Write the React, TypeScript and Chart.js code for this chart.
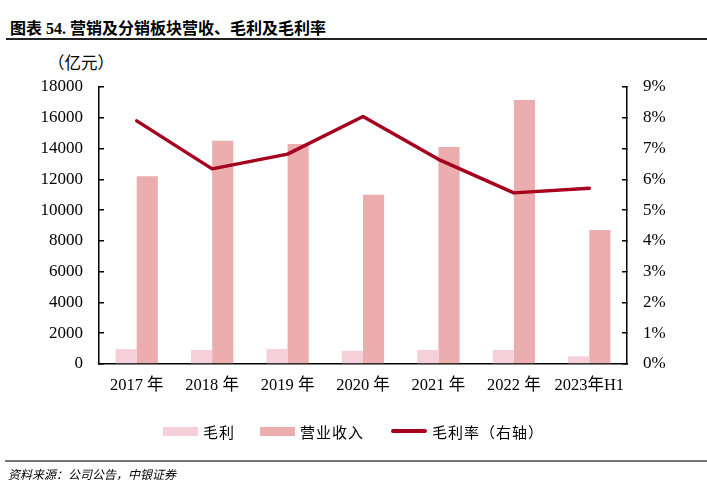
import React, { useEffect, useRef } from "react";
import { Chart, registerables } from "chart.js";

Chart.register(...registerables);

const categories = ["2017 年", "2018 年", "2019 年", "2020 年", "2021 年", "2022 年", "2023年H1"];
const grossProfit = [970, 910, 970, 860, 910, 910, 500];
const revenue = [12200, 14500, 14300, 11000, 14100, 17150, 8700];
const grossMargin = [7.9, 6.34, 6.82, 8.04, 6.65, 5.56, 5.71];
const leftTicks = [0, 18000, 2000];
const rightTicks = [0, 9, 1];

const seriesNames = ["毛利", "营业收入", "毛利率（右轴）"];
const colors = ["#F6D0D8", "#EBADAD", "#A6001F"];

const SERIF = '"Liberation Serif", "Noto Sans CJK SC", serif';
const CJK = '"Noto Sans CJK SC", "Liberation Serif", sans-serif';

export default function App() {
  const ref = useRef<HTMLCanvasElement | null>(null);

  useEffect(() => {
    if (!ref.current) return;
    const chart = new Chart(ref.current, {
      type: "bar",
      data: {
        labels: categories,
        datasets: [
          {
            type: "line",
            label: seriesNames[2],
            data: grossMargin,
            yAxisID: "y1",
            borderColor: colors[2],
            backgroundColor: colors[2],
            borderWidth: 3.5,
            pointRadius: 0,
            borderCapStyle: "round",
            borderJoinStyle: "round",
            tension: 0,
            order: 0,
          } as any,
          {
            type: "bar",
            label: seriesNames[0],
            data: grossProfit,
            yAxisID: "y",
            backgroundColor: colors[0],
            categoryPercentage: 0.56,
            barPercentage: 1,
            order: 1,
          },
          {
            type: "bar",
            label: seriesNames[1],
            data: revenue,
            yAxisID: "y",
            backgroundColor: colors[1],
            categoryPercentage: 0.56,
            barPercentage: 1,
            order: 1,
          },
        ],
      },
      options: {
        responsive: false,
        animation: false,
        devicePixelRatio: 1,
        layout: { padding: { top: 87, left: 0, right: 0, bottom: 0 } },
        plugins: { legend: { display: false }, tooltip: { enabled: false } },
        scales: {
          x: {
            grid: { display: false, drawTicks: false },
            border: { display: true, color: "#000", width: 1.5 },
            ticks: { color: "#000", font: { family: SERIF, size: 16.5 }, padding: 12, maxRotation: 0, autoSkip: false },
            afterFit: (s: any) => { s.height = 127; },
          },
          y: {
            position: "left",
            min: leftTicks[0],
            max: leftTicks[1],
            ticks: { stepSize: leftTicks[2], color: "#000", font: { family: SERIF, size: 17 }, padding: 21, callback: (v: any) => String(v) },
            grid: { drawOnChartArea: false, drawTicks: true, tickLength: -5, color: "#000", lineWidth: 1.5 },
            border: { display: true, color: "#000", width: 1.5 },
            afterFit: (s: any) => { s.width = 99; },
          },
          y1: {
            position: "right",
            min: rightTicks[0],
            max: rightTicks[1],
            ticks: { stepSize: rightTicks[2], color: "#000", font: { family: SERIF, size: 17 }, padding: 21, callback: (v: any) => v + "%" },
            grid: { drawOnChartArea: false, drawTicks: true, tickLength: -5, color: "#000", lineWidth: 1.5 },
            border: { display: true, color: "#000", width: 1.5 },
            afterFit: (s: any) => { s.width = 80; },
          },
        },
      },
    });
    return () => chart.destroy();
  }, []);

  const legendItem = (left: number, kind: number, text: string) => (
    <div style={{ position: "absolute", left, top: 421, height: 20, display: "flex", alignItems: "center" }}>
      {kind < 2 ? (
        <div style={{ width: 35, height: 9, background: colors[kind] }} />
      ) : (
        <div style={{ width: 36, height: 3.5, borderRadius: 2, background: colors[2] }} />
      )}
      <span style={{ marginLeft: 5, fontFamily: CJK, fontSize: 15, color: "#000", letterSpacing: 1 }}>{text}</span>
    </div>
  );

  return (
    <div style={{ position: "absolute", left: 0, top: 0, width: 707, height: 491, background: "#fff", overflow: "hidden" }}>
      <div style={{ position: "absolute", left: 10, top: 15, fontFamily: SERIF, fontWeight: 700, fontSize: 16, color: "#000", whiteSpace: "nowrap" }}>
        图表 54. 营销及分销板块营收、毛利及毛利率
      </div>
      <div style={{ position: "absolute", left: 6, top: 38, width: 701, height: 1.5, background: "#222" }} />
      <div style={{ position: "absolute", left: 48, top: 50, fontFamily: CJK, fontSize: 16.5, color: "#000", whiteSpace: "nowrap" }}>
        （亿元）
      </div>
      <canvas ref={ref} width={707} height={491} style={{ position: "absolute", left: 0, top: 0, width: 707, height: 491 }} />
      {legendItem(163, 0, seriesNames[0])}
      {legendItem(260, 1, seriesNames[1])}
      {legendItem(391, 2, seriesNames[2])}
      <div style={{ position: "absolute", left: 5, top: 460, width: 702, height: 1.5, background: "#777" }} />
      <div style={{ position: "absolute", left: 8, top: 465, fontFamily: CJK, fontStyle: "italic", fontSize: 12, color: "#000", whiteSpace: "nowrap" }}>
        资料来源：公司公告，中银证券
      </div>
    </div>
  );
}
